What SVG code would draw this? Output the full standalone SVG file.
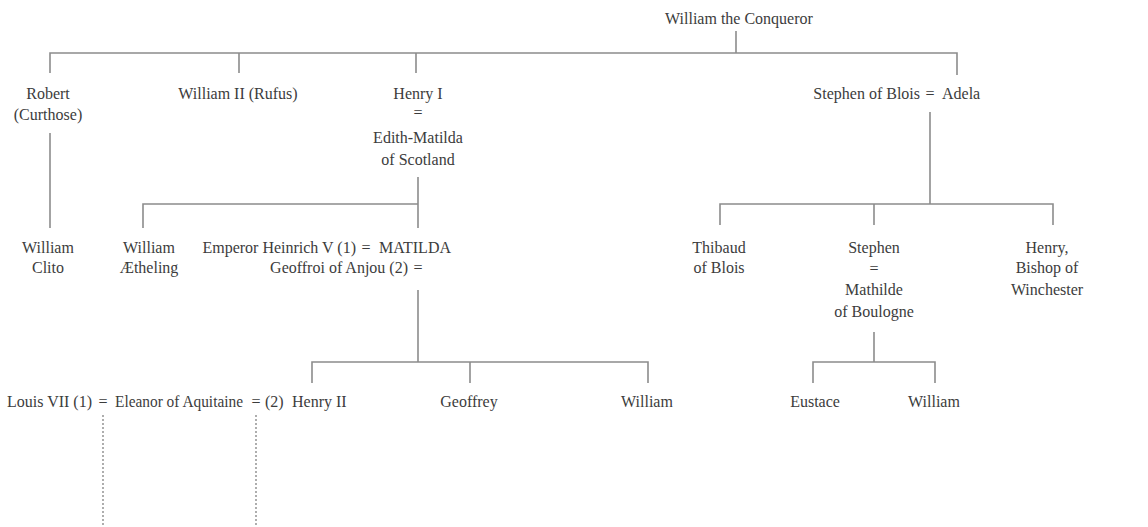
<svg xmlns="http://www.w3.org/2000/svg" width="1148" height="527" viewBox="0 0 1148 527" font-family="Liberation Serif, DejaVu Serif, serif">
<style>
text{font-family:'Liberation Serif','DejaVu Serif',serif;font-size:16px;fill:#3c3c3c}
.m{text-anchor:middle}
.e{text-anchor:end}
.ln{stroke:#8c8c8c;stroke-width:1.6;fill:none}
.dt{stroke:#9a9a9a;stroke-width:1.6;fill:none;stroke-dasharray:2 2}
</style>
<rect width="1148" height="527" fill="#ffffff"/>
<g id="connectors">
<path class="ln" d="M736 31V53M50 73V53H957V75M239 53V73M416 53V73"/>
<path class="ln" d="M50 133V228"/>
<path class="ln" d="M418 177V228M418 204H143V228"/>
<path class="ln" d="M418 290V362M312 383V362H648V383M470 362V383"/>
<path class="ln" d="M930 112V204M720 225V204H1053V225M874 204V225"/>
<path class="ln" d="M874 332V362M813 383V362H935V383"/>
<path class="dt" d="M103 415V527M256 415V527"/>
</g>
<g id="william-conqueror"><text class="m" x="739" y="24">William the Conqueror</text></g>
<g id="robert"><text class="m" x="48" y="99">Robert</text><text class="m" x="48" y="120">(Curthose)</text></g>
<g id="william-ii"><text class="m" x="238" y="99">William II (Rufus)</text></g>
<g id="henry-i"><text class="m" x="418" y="99">Henry I</text><text class="m" x="418" y="118">=</text><text class="m" x="418" y="143">Edith-Matilda</text><text class="m" x="418" y="165">of Scotland</text></g>
<g id="stephen-adela"><text class="e" x="920" y="99">Stephen of Blois</text><text class="m" x="930" y="99">=</text><text x="942" y="99">Adela</text></g>
<g id="william-clito"><text class="m" x="48" y="253">William</text><text class="m" x="48" y="273">Clito</text></g>
<g id="william-aetheling"><text class="m" x="149" y="253">William</text><text class="m" x="149" y="273">Ætheling</text></g>
<g id="matilda"><text class="e" x="356" y="253">Emperor Heinrich V (1)</text><text class="m" x="366" y="253">=</text><text x="379" y="253">MATILDA</text><text class="e" x="408" y="273">Geoffroi of Anjou (2)</text><text class="m" x="418" y="273">=</text></g>
<g id="thibaud"><text class="m" x="719" y="253">Thibaud</text><text class="m" x="719" y="273">of Blois</text></g>
<g id="stephen"><text class="m" x="874" y="253">Stephen</text><text class="m" x="874" y="274">=</text><text class="m" x="874" y="295">Mathilde</text><text class="m" x="874" y="317">of Boulogne</text></g>
<g id="henry-winchester"><text class="m" x="1047" y="253">Henry,</text><text class="m" x="1047" y="273">Bishop of</text><text class="m" x="1047" y="295">Winchester</text></g>
<g id="louis-vii"><text x="7" y="407">Louis VII (1)</text><text class="m" x="103" y="407">=</text></g>
<g id="eleanor"><text x="115" y="407" textLength="128" lengthAdjust="spacingAndGlyphs">Eleanor of Aquitaine</text><text class="m" x="256" y="407">=</text><text x="265" y="407">(2)</text></g>
<g id="henry-ii"><text x="292" y="407">Henry II</text></g>
<g id="geoffrey"><text class="m" x="469" y="407">Geoffrey</text></g>
<g id="william-son"><text class="m" x="647" y="407">William</text></g>
<g id="eustace"><text class="m" x="815" y="407">Eustace</text></g>
<g id="william-stephen"><text class="m" x="934" y="407">William</text></g>
</svg>
